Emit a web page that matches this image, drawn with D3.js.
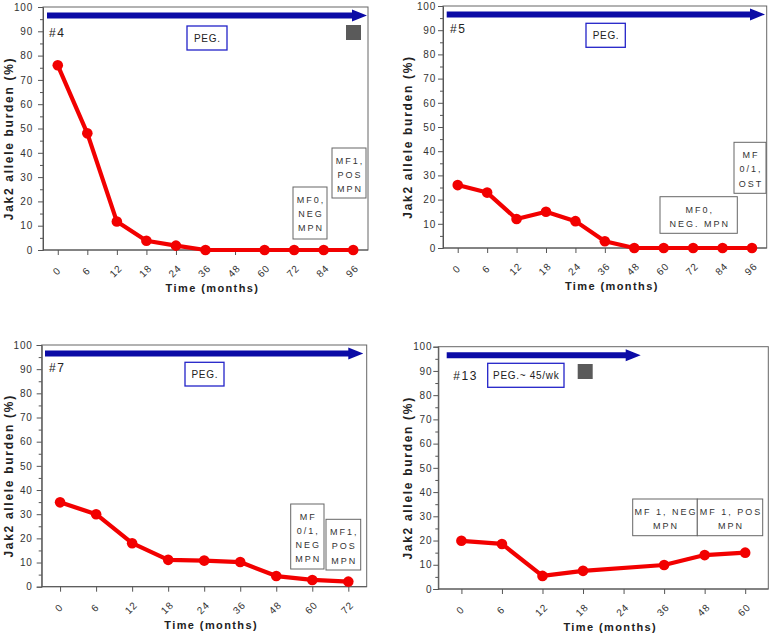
<!DOCTYPE html>
<html><head><meta charset="utf-8">
<script src="https://cdn.jsdelivr.net/npm/d3@7"></script>
<style>
body{margin:0;background:#fff;}
svg{display:block;font-family:"Liberation Sans",Arial,sans-serif;}
</style></head>
<body>
<svg id="c" width="773" height="634"></svg>
<script>
// ---- data ----
const cats4 = ["0","6","12","18","24","36","48","60","72","84","96"];
const vals4 = [76,48,11.7,3.8,1.8,0,null,0,0,0,0];
const cats5 = ["0","6","12","18","24","36","48","60","72","84","96"];
const vals5 = [26,22.9,12,15,11.1,2.8,0,0,0,0,0];
const cats7 = ["0","6","12","18","24","36","48","60","72"];
const vals7 = [34.9,30,18,11.1,10.8,10.2,4.4,2.8,2.1];
const cats13 = ["0","6","12","18","24","36","48","60"];
const vals13 = [19.9,18.6,5.4,7.5,null,9.9,14,15];
const yTicks = [0,10,20,30,40,50,60,70,80,90,100];
const yMinor = [5,15,25,35,45,55,65,75,85,95];
const panelIds = ["#4","#5","#7","#13"];
const pegLabels = ["PEG.","PEG.","PEG.","PEG.~ 45/wk"];
const notes4 = [["MF0,","NEG","MPN"],["MF1,","POS","MPN"]];
const notes5 = [["MF0,","NEG. MPN"],["MF","0/1,","OST"]];
const notes7 = [["MF","0/1,","NEG","MPN"],["MF1,","POS","MPN"]];
const notes13 = [["MF 1, NEG","MPN"],["MF 1, POS","MPN"]];
const xTitle = "Time (months)";
const yTitle = "Jak2 allele burden (%)";

// ---- layout ----
const panels = [
 {cats:cats4, vals:vals4, f:{l:43,r:368,t:7,b:250}, pad:0.5, gap:10, ytx:9, arrow:[4,324], idDx:6, idV:89.3,
  peg:[144,19,40,24], gray:[303,18], notes:notes4, boxes:[[250,180,34,52],[289,141,34,50]]},
 {cats:cats5, vals:vals5, f:{l:443,r:766.7,t:6,b:248}, pad:0.5, gap:7, ytx:408, arrow:[3.7,322], idDx:7, idV:90.5,
  peg:[143,17.3,39.3,24], gray:null, notes:notes5, boxes:[[217,190.7,77.3,36.6],[291,136.3,32,51]]},
 {cats:cats7, vals:vals7, f:{l:41.7,r:366.7,t:345,b:586.7}, pad:0.51, gap:9, ytx:8.7, arrow:[3.3,321.6], idDx:7.3, idV:90.4,
  peg:[143.3,17.3,39,23.7], gray:null, notes:notes7, boxes:[[249,159,33.3,65],[284.3,174.3,34.7,50.7]]},
 {cats:cats13, vals:vals13, f:{l:438.3,r:768.3,t:346.7,b:589}, pad:0.57, gap:6, ytx:408, arrow:[8.4,202.4], idDx:15, idV:88,
  peg:[49.4,16.6,76.3,24], gray:[139.4,17.3], notes:notes13, boxes:[[194.4,152.3,64.6,36.7],[259,152.3,65.4,36.7]]}
];

const svg = d3.select("#c");
const axisCol = "#555", txtCol = "#333";

panels.forEach((p,i)=>{
  const f = p.f;
  const x = d3.scalePoint().domain(p.cats).range([f.l,f.r]).padding(p.pad);
  const y = d3.scaleLinear().domain([0,100]).range([f.b,f.t]);
  const g = svg.append("g");

  // frame
  g.append("rect").attr("x",f.l).attr("y",f.t).attr("width",f.r-f.l).attr("height",f.b-f.t)
    .attr("fill","none").attr("stroke","#666").attr("stroke-width",1);

  // y axis major
  const ya = g.append("g").attr("transform",`translate(${f.l},0)`)
    .call(d3.axisLeft(y).tickValues(yTicks).tickSize(5).tickPadding(p.gap-5));
  ya.select(".domain").attr("stroke",axisCol);
  ya.selectAll(".tick line").attr("stroke",axisCol);
  ya.selectAll("text").attr("fill",txtCol).style("font-size","10px").style("letter-spacing","0.8px")
    .style("font-family","'Liberation Sans',Arial,sans-serif");
  const ym = g.append("g").attr("transform",`translate(${f.l},0)`)
    .call(d3.axisLeft(y).tickValues(yMinor).tickSize(3).tickFormat(""));
  ym.select(".domain").remove();
  ym.selectAll(".tick line").attr("stroke",axisCol);

  // x axis
  const xa = g.append("g").attr("transform",`translate(0,${f.b})`)
    .call(d3.axisBottom(x).tickSize(5).tickFormat(""));
  xa.select(".domain").attr("stroke",axisCol).attr("d",`M${f.l},0H${f.r}`);
  xa.selectAll(".tick line").attr("stroke",axisCol);
  const xl = g.selectAll("g.xl").data(p.cats).join("g").attr("class","xl")
    .attr("transform",d=>`translate(${x(d)-1},${f.b+21}) rotate(-45)`);
  xl.append("text")
    .attr("text-anchor","middle").attr("dominant-baseline","central")
    .attr("fill",txtCol).style("font-size","10px").style("letter-spacing","1px")
    .text(d=>d);

  // titles
  g.append("text").attr("x",(f.l+f.r)/2+7).attr("y",f.b+38).attr("text-anchor","middle")
    .attr("dominant-baseline","central").attr("fill","#222")
    .style("font-size","11px").style("font-weight","bold").style("letter-spacing","1.4px").text(xTitle);
  g.append("text").attr("transform",`translate(${p.ytx},${(f.t+f.b)/2+10}) rotate(-90)`)
    .attr("text-anchor","middle").attr("dominant-baseline","central").attr("fill","#222")
    .style("font-size","12px").style("font-weight","bold").style("letter-spacing","1.7px").text(yTitle);

  // blue arrow
  const ay = y(96.5), ax0 = f.l+p.arrow[0], ax1 = f.l+p.arrow[1];
  g.append("path").attr("fill","#0b0ba6")
    .attr("d",`M${ax0},${ay-3}H${ax1-15}V${ay-6}L${ax1},${ay}L${ax1-15},${ay+6}V${ay+3}H${ax0}Z`);

  // panel id
  g.append("text").attr("x",f.l+p.idDx).attr("y",y(p.idV)).attr("dominant-baseline","central")
    .attr("fill","#222").style("font-size","12px").style("letter-spacing","1.5px").text(panelIds[i]);

  // PEG box
  const pb = p.peg;
  g.append("rect").attr("x",f.l+pb[0]).attr("y",f.t+pb[1]).attr("width",pb[2]).attr("height",pb[3])
    .attr("fill","#fff").attr("stroke","#2323c8").attr("stroke-width",1.3);
  g.append("text").attr("x",f.l+pb[0]+pb[2]/2+0.35).attr("y",f.t+pb[1]+pb[3]/2+0.5)
    .attr("text-anchor","middle").attr("dominant-baseline","central").attr("fill","#222")
    .style("font-size","10px").style("letter-spacing","0.7px").text(pegLabels[i]);

  // gray square
  if (p.gray) g.append("rect").attr("x",f.l+p.gray[0]).attr("y",f.t+p.gray[1]).attr("width",15).attr("height",15)
    .attr("fill","#5a5a5a");

  // annotation boxes
  p.boxes.forEach((b,j)=>{
    g.append("rect").attr("x",f.l+b[0]).attr("y",f.t+b[1]).attr("width",b[2]).attr("height",b[3])
      .attr("fill","#fff").attr("stroke","#666").attr("stroke-width",1);
    p.notes[j].forEach((t,k)=>{
      g.append("text").attr("x",f.l+b[0]+b[2]/2+1).attr("y",f.t+b[1]+12.8+k*14.2)
        .attr("text-anchor","middle").attr("dominant-baseline","central").attr("fill",txtCol)
        .style("font-size","9px").style("letter-spacing","2px").text(t);
    });
  });

  // data line
  const pts = p.cats.map((c,k)=>({c, v:p.vals[k]})).filter(d=>d.v!==null);
  g.append("path").datum(pts)
    .attr("d",d3.line().x(d=>x(d.c)).y(d=>y(d.v)))
    .attr("fill","none").attr("stroke","#f20000").attr("stroke-width",4.2).attr("stroke-linejoin","round");
  g.selectAll(".pt").data(pts).join("circle")
    .attr("cx",d=>x(d.c)).attr("cy",d=>y(d.v)).attr("r",5.3).attr("fill","#f20000");
});
</script>
</body></html>
